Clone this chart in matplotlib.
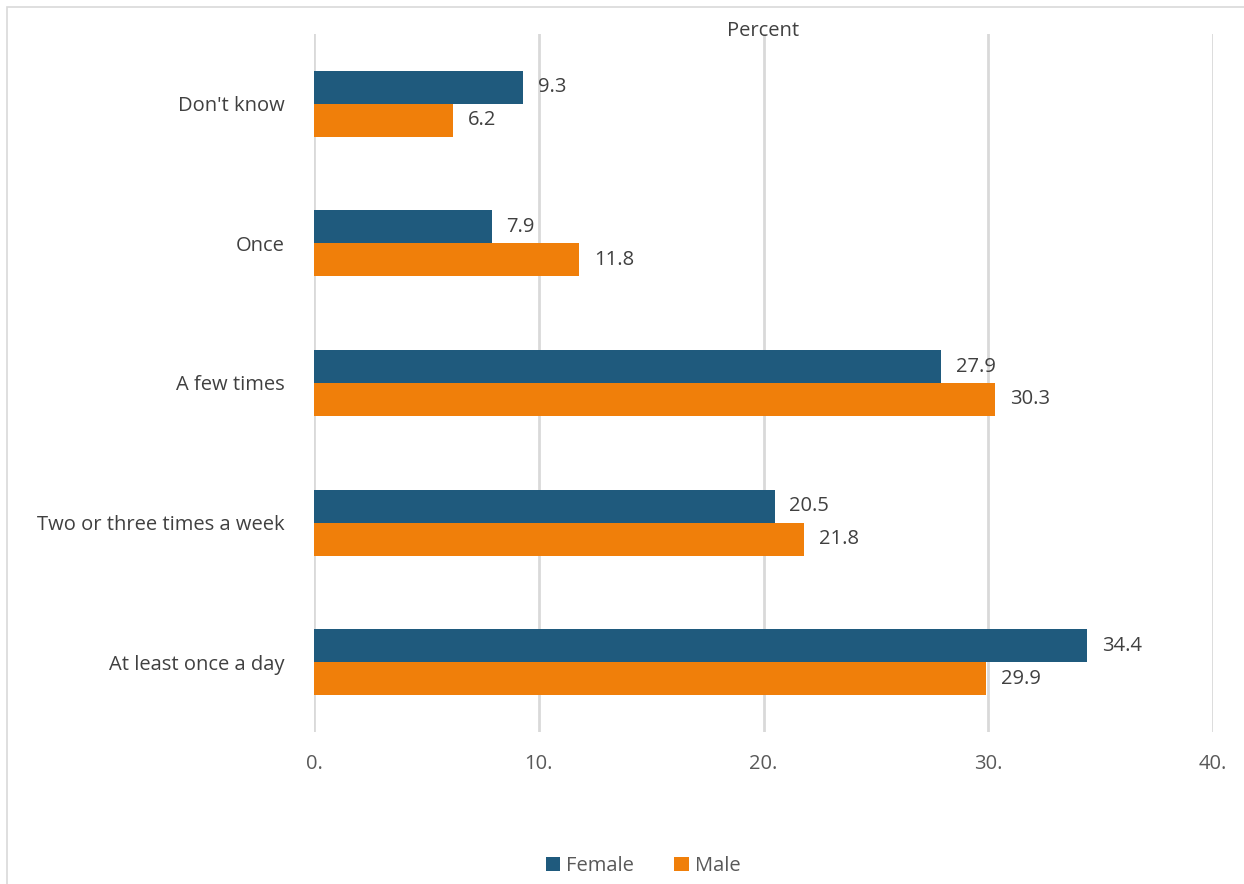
import matplotlib.pyplot as plt
import numpy as np
from matplotlib.patches import Rectangle

plt.rcParams['font.family'] = ['Open Sans', 'DejaVu Sans']

categories = ["Don't know", "Once", "A few times", "Two or three times a week", "At least once a day"]
female = [9.3, 7.9, 27.9, 20.5, 34.4]
male = [6.2, 11.8, 30.3, 21.8, 29.9]
ticks = [0, 10, 20, 30, 40]
tick_labels = ["0.", "10.", "20.", "30.", "40."]

c_female = "#1f5a7d"
c_male = "#f07f0a"
txt = "#404040"
fs = 14.5

fig = plt.figure(figsize=(12.44, 8.84), dpi=100)
# chart frame, cut off at the right and bottom like the source screenshot
fig.patches.append(Rectangle((7 / 1244, -0.1), 1.1, 1.1 - 7 / 884, transform=fig.transFigure,
                             fill=False, edgecolor="#d9d9d9", linewidth=1.2))
ax = fig.add_axes([314 / 1244, 1 - 732 / 884, (1213 - 314) / 1244, (732 - 34) / 884])

y = np.arange(len(categories))
h = 0.236
bf = ax.barh(y - h / 2, female, height=h, color=c_female, label="Female", zorder=3)
bm = ax.barh(y + h / 2, male, height=h, color=c_male, label="Male", zorder=3)

for bars, vals in ((bf, female), (bm, male)):
    for b, v in zip(bars, vals):
        ax.text(v + 0.65, b.get_y() + b.get_height() / 2, f"{v:.1f}", va="center", ha="left",
                fontsize=fs, color=txt)

ax.set_ylim(len(categories) - 0.5, -0.5)
ax.set_xlim(0, 40)
ax.set_yticks(y)
ax.set_yticklabels(categories, fontsize=fs, color=txt)
ax.set_xticks(ticks)
ax.set_xticklabels(tick_labels, fontsize=fs, color="#595959")
ax.tick_params(axis="both", length=0)
ax.tick_params(axis="y", pad=21)
ax.tick_params(axis="x", pad=16)
ax.grid(axis="x", color="#d9d9d9", linewidth=2, zorder=0)
for s in ax.spines.values():
    s.set_visible(False)
ax.annotate("Percent", xy=(0.5, 1), xycoords="axes fraction", xytext=(0, 2),
            textcoords="offset points", ha="center", va="center", fontsize=fs, color=txt)

fig.legend(handles=[bf, bm], labels=["Female", "Male"], loc="center", bbox_to_anchor=(0.517, 1 - 866 / 884),
           ncol=2, frameon=False, fontsize=fs, handlelength=0.7, handleheight=0.7,
           columnspacing=2.0, handletextpad=0.3, labelcolor="#595959")

fig.savefig("out.png", dpi=100)
